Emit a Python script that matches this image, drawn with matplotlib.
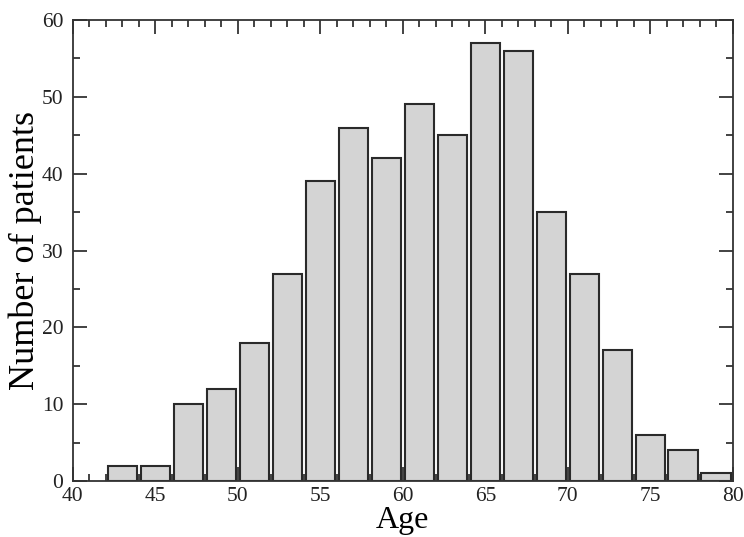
import matplotlib
matplotlib.use("Agg")
import matplotlib.pyplot as plt
from matplotlib.ticker import MultipleLocator

# age bins (2-year bins, centres) and counts
bin_centers = [43, 45, 47, 49, 51, 53, 55, 57, 59, 61, 63, 65, 67, 69, 71, 73, 75, 77, 79]
counts = [2, 2, 10, 12, 18, 27, 39, 46, 42, 49, 45, 57, 56, 35, 27, 17, 6, 4, 1]

plt.rcParams["font.family"] = ["Liberation Serif", "DejaVu Serif"]

fig = plt.figure(figsize=(7.44, 5.37), dpi=100)
ax = fig.add_axes([0.098, 0.104, 0.887, 0.859])

ax.bar(bin_centers, counts, width=1.8, color="#d4d4d4", edgecolor="#2a2a2a",
       linewidth=1.5, zorder=2)

ax.set_xlim(40, 80)
ax.set_ylim(0, 60)
ax.xaxis.set_major_locator(MultipleLocator(5))
ax.xaxis.set_minor_locator(MultipleLocator(1))
ax.yaxis.set_major_locator(MultipleLocator(10))
ax.yaxis.set_minor_locator(MultipleLocator(5))
ax.tick_params(which="both", direction="in", top=True, right=True,
               colors="#222222", width=1.2, labelsize=15.5)
ax.tick_params(which="major", length=10)
ax.tick_params(which="minor", length=5)
ax.tick_params(axis="x", which="major", pad=4)
ax.tick_params(axis="y", which="major", pad=7)
for s in ax.spines.values():
    s.set_linewidth(1.3)
    s.set_color("#333333")

ax.set_xlabel("Age", fontsize=23, labelpad=0)
ax.set_ylabel("Number of patients", fontsize=26, labelpad=0)

fig.savefig("out.png")
